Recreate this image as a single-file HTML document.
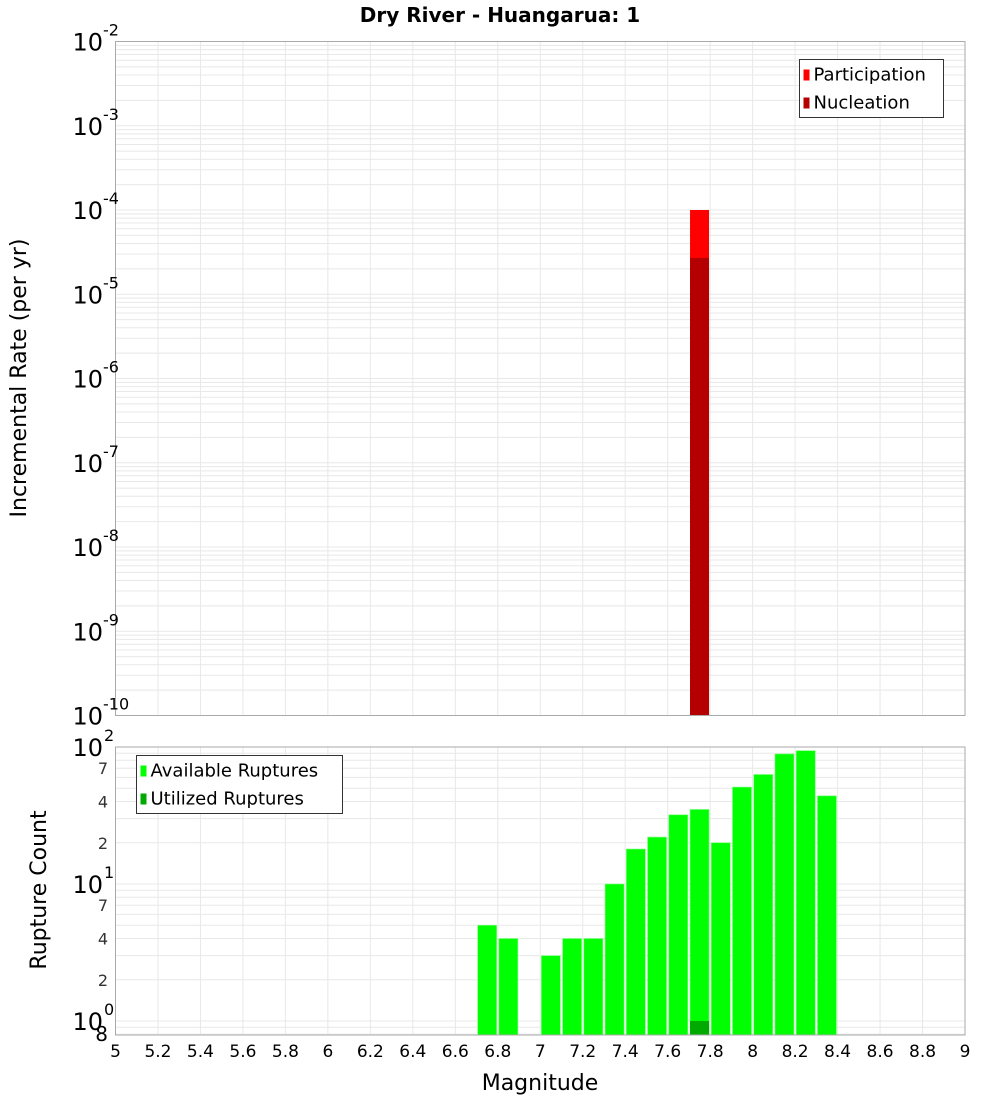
<!DOCTYPE html>
<html><head><meta charset="utf-8"><style>
body{margin:0;background:#fff;}
svg{display:block;font-family:"DejaVu Sans","Liberation Sans",sans-serif;}
</style></head><body>
<svg id="c" width="1000" height="1100"></svg>
<script>
const mags=[6.75,6.85,7.05,7.15,7.25,7.35,7.45,7.55,7.65,7.75,7.85,7.95,8.05,8.15,8.25,8.35];
const available=[5,4,3,4,4,10,18,22,32,35,20,51,63,89,94,44];
const utilizedMags=[7.75];
const utilized=[1];
const rateMags=[7.75];
const participation=[1.0e-4];
const nucleation=[2.7e-5];
const xTicks=[5,5.2,5.4,5.6,5.8,6,6.2,6.4,6.6,6.8,7,7.2,7.4,7.6,7.8,8,8.2,8.4,8.6,8.8,9];
const topExps=[-2,-3,-4,-5,-6,-7,-8,-9,-10];
const botExps=[2,1,0];
const botMinor=[7,4,2];

const NS='http://www.w3.org/2000/svg';
const svg=document.getElementById('c');
function mk(t,a,p){const e=document.createElementNS(NS,t);for(const k in a)e.setAttribute(k,a[k]);(p||svg).appendChild(e);return e;}
const X0=115.5,X1=965;
const x=m=>X0+(m-5)/4*(X1-X0);
const T0=41.5,T1=715.5;
const yT=v=>T0+(-2-Math.log10(v))/8*(T1-T0);
const B0=747,B1=1035,BD=137;
const yB=v=>B0+(2-Math.log10(v))*BD;

// title
let t=mk('text',{x:500,y:22,'text-anchor':'middle','font-size':20,'font-weight':'bold'});

t.textContent='Dry River - Huangarua: 1';

// grids
const g=mk('g',{stroke:'#e8e8e8','stroke-width':1});

xTicks.forEach(m=>{mk('line',{x1:x(m),x2:x(m),y1:T0,y2:T1},g);mk('line',{x1:x(m),x2:x(m),y1:B0,y2:B1},g);});
for(let e=-10;e<-2;e++)for(let k=1;k<10;k++){const y=yT(k*Math.pow(10,e));mk('line',{x1:X0,x2:X1,y1:y,y2:y},g);}
for(let e=-1;e<2;e++)for(let k=1;k<10;k++){const v=k*Math.pow(10,e);if(v<0.8)continue;const y=yB(v);mk('line',{x1:X0,x2:X1,y1:y,y2:y},g);}

// top bars
const bw=19;
rateMags.forEach((m,i)=>{
 let r=mk('rect',{x:x(m)-bw/2,y:yT(participation[i]),width:bw,height:T1-yT(participation[i]),fill:'#ff0000'});
 
 r=mk('rect',{x:x(m)-bw/2,y:yT(nucleation[i]),width:bw,height:T1-yT(nucleation[i]),fill:'#b40000'});
 
});
// bottom bars
mags.forEach((m,i)=>{
 const r=mk('rect',{x:x(m)-bw/2,y:yB(available[i]),width:bw,height:B1-yB(available[i]),fill:'#00ff00',stroke:'#7dff7d','stroke-width':0.6});
 
});
utilizedMags.forEach((m,i)=>{
 const r=mk('rect',{x:x(m)-bw/2,y:yB(utilized[i]),width:bw,height:B1-yB(utilized[i]),fill:'#00aa00'});
 
});

// frames
let f=mk('rect',{x:X0,y:T0,width:X1-X0,height:T1-T0,fill:'none',stroke:'#aaa'});

f=mk('rect',{x:X0,y:B0,width:X1-X0,height:B1-B0,fill:'none',stroke:'#aaa'});


// top y labels
topExps.forEach(e=>{
 const y=yT(Math.pow(10,e));
 const tx=mk('text',{x:103,y:y+9,'text-anchor':'end','font-size':24});
 
 tx.textContent='10';
 const s=mk('text',{x:103,y:y-6,'font-size':16});
 
 s.textContent=String(e);
});
// bottom y labels
botExps.forEach(e=>{
 const y=yB(Math.pow(10,e));
 const tx=mk('text',{x:103,y:y+9,'text-anchor':'end','font-size':24});
 
 tx.textContent='10';
 const s=mk('text',{x:104,y:y-6,'font-size':16});
 
 s.textContent=String(e);
});
[1,0].forEach(e=>botMinor.forEach(k=>{
 const y=yB(k*Math.pow(10,e));
 const tx=mk('text',{x:108,y:y+6,'text-anchor':'end','font-size':16,fill:'#333'});
 
 tx.textContent=String(k);
}));
t=mk('text',{x:108,y:1041,'text-anchor':'end','font-size':20});
t.textContent='8';

// x labels
xTicks.forEach(m=>{
 const tx=mk('text',{x:x(m),y:1057,'text-anchor':'middle','font-size':17});
 
 tx.textContent=String(m);
});
t=mk('text',{x:540,y:1090,'text-anchor':'middle','font-size':22});
t.textContent='Magnitude';
t=mk('text',{x:0,y:0,'text-anchor':'middle','font-size':22,transform:'translate(26,378) rotate(-90)'});
t.textContent='Incremental Rate (per yr)';
t=mk('text',{x:0,y:0,'text-anchor':'middle','font-size':22,transform:'translate(46,890) rotate(-90)'});
t.textContent='Rupture Count';

// legends
function legend(x0,y0,w,items,name){
 const lg=mk('g',{});
 mk('rect',{x:x0,y:y0,width:w,height:58,fill:'#fff',stroke:'#333'},lg);
 items.forEach((it,i)=>{
  const sw=mk('rect',{x:x0+4,y:y0+10+i*28,width:6,height:11,fill:it[1]},lg);
  
  const tx=mk('text',{x:x0+14,y:y0+21+i*28,'font-size':18},lg);
  
  tx.textContent=it[0];
 });
}
legend(799.5,59.5,144,[['Participation','#ff0000'],['Nucleation','#b40000']],'top-legend');
legend(136.5,755.5,206,[['Available Ruptures','#00ff00'],['Utilized Ruptures','#00aa00']],'bottom-legend');
</script>
</body></html>
